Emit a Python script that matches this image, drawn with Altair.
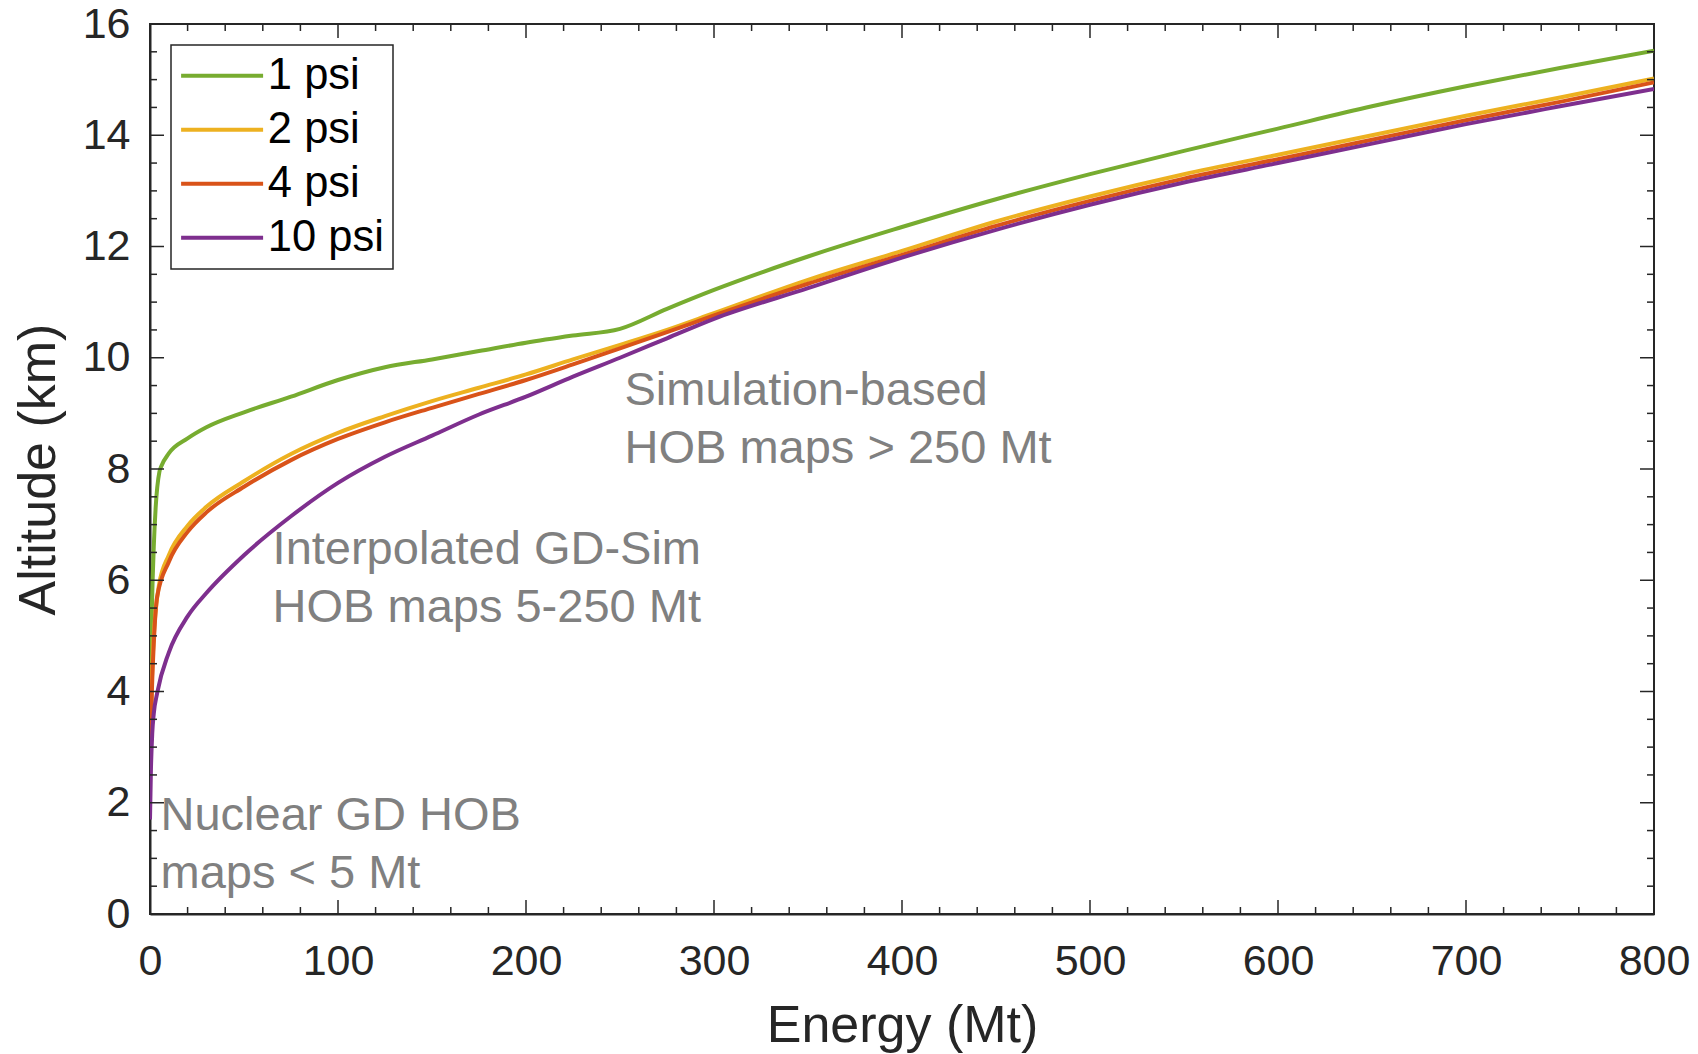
import altair as alt
import pandas as pd

FONT = "Liberation Sans"
AX = "#262626"

series_names = ["1 psi", "2 psi", "4 psi", "10 psi"]
series_colors = ["#77AC30", "#EDB120", "#D95319", "#7E2F8E"]

energy_1psi = [0, 1, 2, 3, 5, 6, 10, 20, 30, 50, 75, 100, 125, 150, 175, 200, 225, 250, 275, 300,
               350, 400, 450, 500, 550, 600, 650, 700, 750, 800]
alt_1psi = [3.7, 5.5, 6.6, 7.3, 7.95, 8.05, 8.28, 8.55, 8.75, 9.02, 9.3, 9.6, 9.83, 9.97, 10.12, 10.27,
            10.4, 10.52, 10.88, 11.22, 11.82, 12.35, 12.85, 13.3, 13.72, 14.12, 14.52, 14.88, 15.21, 15.52]

energy_2psi = [0, 1, 2, 3, 4.7, 10, 20, 30, 50, 75, 100, 125, 150, 175, 200, 225, 250, 275, 300,
               350, 400, 450, 500, 550, 600, 650, 700, 750, 800]
alt_2psi = [2.65, 4.2, 5.0, 5.45, 5.9, 6.45, 6.98, 7.32, 7.78, 8.27, 8.65, 8.95, 9.22, 9.46, 9.7,
            9.97, 10.23, 10.5, 10.8, 11.4, 11.92, 12.45, 12.9, 13.3, 13.65, 14.0, 14.35, 14.68, 15.02]

energy_4psi = [0, 1, 2, 3.8, 10, 20, 30, 50, 75, 100, 125, 150, 175, 200, 225, 250, 275, 300,
               350, 400, 450, 500, 550, 600, 650, 700, 750, 800]
alt_4psi = [2.65, 4.0, 4.85, 5.7, 6.33, 6.87, 7.22, 7.68, 8.16, 8.54, 8.84, 9.1, 9.35, 9.6, 9.88,
            10.17, 10.46, 10.76, 11.33, 11.85, 12.37, 12.82, 13.22, 13.57, 13.92, 14.27, 14.6, 14.95]

energy_10psi = [0, 0.5, 1.2, 2, 3.8, 10, 20, 30, 50, 75, 100, 125, 150, 175, 200, 225, 250, 275, 300,
                350, 400, 450, 500, 550, 600, 650, 700, 750, 800]
alt_10psi = [1.7, 2.6, 3.25, 3.6, 3.97, 4.7, 5.35, 5.77, 6.45, 7.15, 7.75, 8.22, 8.6, 8.98, 9.3,
             9.66, 10.0, 10.35, 10.7, 11.25, 11.8, 12.3, 12.75, 13.15, 13.5, 13.85, 14.2, 14.52, 14.83]

x_major = [0, 100, 200, 300, 400, 500, 600, 700, 800]
x_minor = [20, 40, 60, 80, 120, 140, 160, 180, 220, 240, 260, 280, 320, 340, 360, 380,
           420, 440, 460, 480, 520, 540, 560, 580, 620, 640, 660, 680, 720, 740, 760, 780]
y_major = [0, 2, 4, 6, 8, 10, 12, 14, 16]
y_minor = [0.5, 1, 1.5, 2.5, 3, 3.5, 4.5, 5, 5.5, 6.5, 7, 7.5, 8.5, 9, 9.5,
           10.5, 11, 11.5, 12.5, 13, 13.5, 14.5, 15, 15.5]

ann_text = ["Nuclear GD HOB\nmaps < 5 Mt",
            "Interpolated GD-Sim\nHOB maps 5-250 Mt",
            "Simulation-based\nHOB maps > 250 Mt"]
ann_x = [5.6, 65.2, 252.4]
ann_y = [1.51, 6.29, 9.15]

W, H = 1504, 890
MAJ, MIN = 14, 7

rows = []
for name, xs, ys in zip(series_names,
                        [energy_1psi, energy_2psi, energy_4psi, energy_10psi],
                        [alt_1psi, alt_2psi, alt_4psi, alt_10psi]):
    for e, a in zip(xs, ys):
        rows.append({"series": name, "energy": e, "alt": a})
df = pd.DataFrame(rows)

xs_ = alt.Scale(domain=[0, 800], nice=False, zero=False)
ys_ = alt.Scale(domain=[0, 16], nice=False, zero=False)

lines = alt.Chart(df).mark_line(strokeWidth=4, interpolate="monotone", clip=True).encode(
    x=alt.X("energy:Q", scale=xs_, axis=alt.Axis(
        values=x_major, format="d", title="Energy (Mt)", grid=False,
        ticks=False, tickSize=0, labelPadding=26, labelFontSize=43, labelFont=FONT,
        labelColor=AX, labelFlush=False, labelOverlap=False,
        domainColor=AX, domainWidth=2,
        titleFont=FONT, titleFontSize=52, titleFontWeight="normal", titleColor=AX,
        titleY=127, titleBaseline="alphabetic")),
    y=alt.Y("alt:Q", scale=ys_, axis=alt.Axis(
        values=y_major, format="d", title="Altitude (km)", grid=False,
        ticks=False, tickSize=0, labelPadding=20, labelFontSize=43, labelFont=FONT,
        labelColor=AX, labelFlush=False, labelOverlap=False,
        domainColor=AX, domainWidth=2,
        titleFont=FONT, titleFontSize=52, titleFontWeight="normal", titleColor=AX,
        titleX=-96, titleY=H / 2, titleAngle=270, titleAlign="center",
        titleBaseline="alphabetic")),
    color=alt.Color("series:N", sort=series_names,
                    scale=alt.Scale(domain=series_names, range=series_colors),
                    legend=alt.Legend(
                        title=None, orient="top-left", offset=21, padding=9,
                        symbolType="M-3,0H3", symbolSize=747, symbolStrokeWidth=4,
                        symbolOffset=20.35, labelOffset=24, rowPadding=9,
                        labelFontSize=43.5, labelFont=FONT, labelColor="#000000",
                        strokeColor=AX, fillColor="white")),
    detail="series:N",
)

xmaj = pd.DataFrame({"v": x_major})
xmin = pd.DataFrame({"v": x_minor})
ymaj = pd.DataFrame({"v": y_major})
ymin = pd.DataFrame({"v": y_minor})

def xticks(d, L):
    b = alt.Chart(d).mark_rule(color=AX, strokeWidth=1.5).encode(
        x=alt.X("v:Q", scale=xs_, axis=None), y=alt.value(H), y2=alt.value(H - L))
    t = alt.Chart(d).mark_rule(color=AX, strokeWidth=1.5).encode(
        x=alt.X("v:Q", scale=xs_, axis=None), y=alt.value(0), y2=alt.value(L))
    return [b, t]

def yticks(d, L):
    l = alt.Chart(d).mark_rule(color=AX, strokeWidth=1.5).encode(
        y=alt.Y("v:Q", scale=ys_, axis=None), x=alt.value(0), x2=alt.value(L))
    r = alt.Chart(d).mark_rule(color=AX, strokeWidth=1.5).encode(
        y=alt.Y("v:Q", scale=ys_, axis=None), x=alt.value(W), x2=alt.value(W - L))
    return [l, r]

ann = pd.DataFrame({"t": ann_text, "x": ann_x, "y": ann_y})
texts = alt.Chart(ann).mark_text(
    align="left", baseline="alphabetic", fontSize=47, font=FONT, color="#808080",
    lineBreak="\n", lineHeight=58).encode(
    x=alt.X("x:Q", scale=xs_, axis=None), y=alt.Y("y:Q", scale=ys_, axis=None), text="t:N")

layers = ([lines] + xticks(xmaj, MAJ) + xticks(xmin, MIN) + yticks(ymaj, MAJ)
          + yticks(ymin, MIN) + [texts])

chart = alt.layer(*layers).resolve_axis(x="independent", y="independent").properties(
    width=W, height=H,
    padding={"left": 150, "top": 24, "right": 44, "bottom": 140},
    autosize=alt.AutoSizeParams(type="none"),
    background="white",
).configure_view(stroke=AX, strokeWidth=2).configure_legend(strokeWidth=1.5)

chart.save("out.html", embed_options={"renderer": "svg", "actions": False})
